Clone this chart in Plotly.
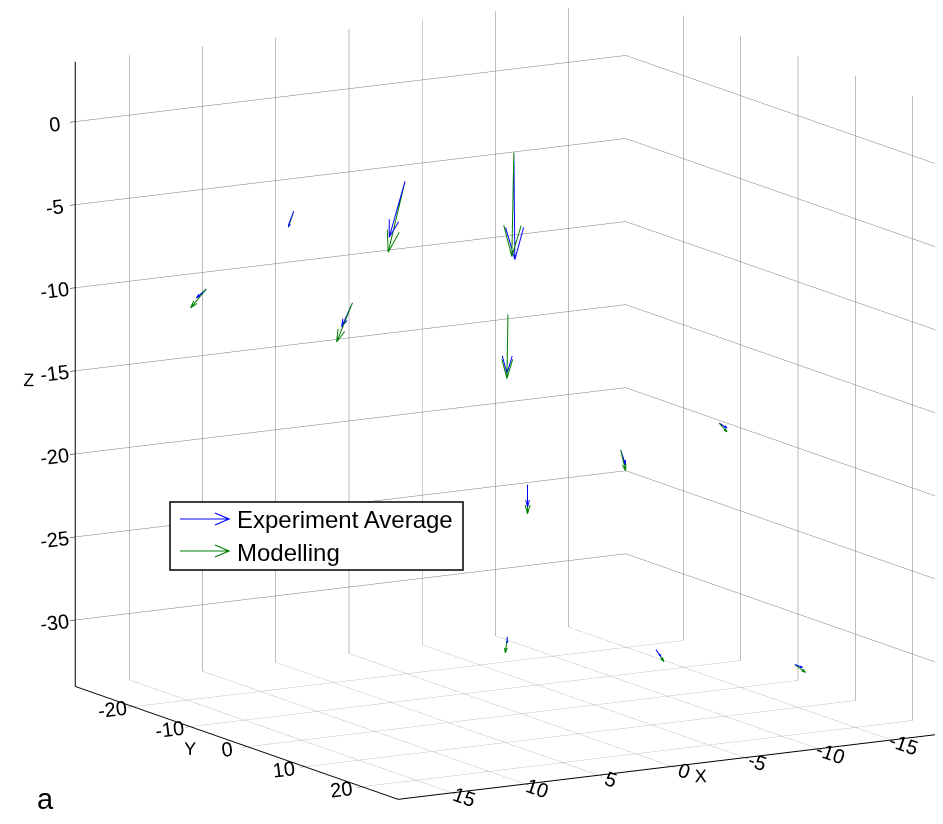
import numpy as np
import plotly.graph_objects as go

# ---------------- data ----------------
series_names = ["Experiment Average", "Modelling"]
series_colors = ["#0000ff", "#008000"]

# sensor (arrow tail) positions
pos_x = [18.2, 10.6, 0.9, 12.2, 6.8, 0.6, -17.3, -9.6, 0.2, -0.8, -6.5, -11.4]
pos_y = [6.8, 6.8, 1.0, -23.8, -12.1, -0.8, -9.7, -7.2, 1.6, -4.5, 6.9, 18.6]
pos_z = [-1.0, 0.0, 0.0, -10.0, -10.0, -10.0, -19.5, -20.0, -20.0, -30.0, -30.0, -30.0]

# Experiment Average vectors
exp_u = [0.62, 1.41, -0.09, 0.39, 0.42, 0.04, -0.77, -0.48, 0.00, 0.00, -0.19, -0.30]
exp_v = [0.37, 0.84, -0.05, -0.75, -0.82, -0.07, -0.58, -0.36, 0.00, 0.00, 0.39, 0.62]
exp_w = [-0.97, -3.12, -6.46, -0.59, -1.50, -3.56, -0.45, -1.00, -1.33, -0.36, -0.39, -0.14]

# Modelling vectors
mod_u = [0.97, 1.50, 0.18, 0.62, 0.62, 0.04, -0.77, -0.48, 0.00, 0.075, -0.30, -0.41]
mod_v = [0.58, 0.89, 0.11, -1.19, -1.19, -0.07, -0.58, -0.36, 0.00, -0.15, 0.62, 0.85]
mod_w = [-1.75, -4.01, -6.23, -1.22, -2.43, -3.86, -0.69, -1.36, -1.75, -0.97, -0.68, -0.42]

# axes
x_range = [-18.9, 18.7]
y_range = [-30.1, 26.3]
z_range = [-34.0, 3.6]
x_ticks = [-15, -10, -5, 0, 5, 10, 15]
y_ticks = [-20, -10, 0, 10, 20]
z_ticks = [-30, -25, -20, -15, -10, -5, 0]

# ---------------- view ----------------
view_dir = np.array([0.495, 0.844, 0.205])
view_dir = view_dir / np.linalg.norm(view_dir)
eye_dist = 1.5
box_scale = 1.549
cam_center = np.array([0.0735, -0.0301, -0.0535])
cam_eye = cam_center + view_dir * eye_dist

spans = np.array([x_range[1] - x_range[0], y_range[1] - y_range[0], z_range[1] - z_range[0]])

HEAD_LEN = 0.3
HEAD_W = 0.28


def quiver_lines(xs, ys, zs, us, vs, ws):
    lx, ly, lz = [], [], []
    for x, y, z, u, v, w in zip(xs, ys, zs, us, vs, ws):
        p = np.array([x, y, z], float)
        vec = np.array([u, v, w], float)
        tip = p + vec
        vn = vec / spans
        side = np.cross(view_dir, vn) * HEAD_LEN * HEAD_W
        back = -HEAD_LEN * vn
        h1 = tip + (back + side) * spans
        h2 = tip + (back - side) * spans
        for pt in (p, tip, None, h1, tip, h2, None):
            if pt is None:
                lx.append(None); ly.append(None); lz.append(None)
            else:
                lx.append(pt[0]); ly.append(pt[1]); lz.append(pt[2])
    return lx, ly, lz


series = list(zip(series_names, series_colors,
                  [(exp_u, exp_v, exp_w), (mod_u, mod_v, mod_w)]))
fig = go.Figure()
# Modelling drawn first so the experiment arrows sit on top, as in the reference
for name, col, (us, vs, ws) in reversed(series):
    lx, ly, lz = quiver_lines(pos_x, pos_y, pos_z, us, vs, ws)
    fig.add_trace(go.Scatter3d(x=lx, y=ly, z=lz, mode="lines", name=name,
                               line=dict(color=col, width=2), showlegend=False,
                               connectgaps=False, hoverinfo="skip"))

axis_common = dict(showbackground=False, showgrid=True, gridcolor="#7a7a7a", gridwidth=1,
                   showline=True, linecolor="black", linewidth=2, zeroline=False,
                   ticks="outside", tickcolor="black", ticklen=6, showspikes=False,
                   tickfont=dict(family="Liberation Sans, Arial", size=15.5, color="black"),
                   autorange=False)


def labels(vals):
    return [str(v) for v in vals]


title_font = dict(family="Liberation Sans, Arial", size=18, color="black")
fig.update_layout(
    width=943, height=824,
    margin=dict(l=0, r=0, t=0, b=0),
    paper_bgcolor="white",
    font=dict(family="Liberation Sans, Arial", color="black"),
    scene=dict(
        domain=dict(x=[0, 1], y=[0, 1]),
        aspectmode="manual",
        aspectratio=dict(x=box_scale, y=box_scale, z=box_scale),
        xaxis=dict(range=x_range, tickvals=x_ticks, ticktext=labels(x_ticks),
                   title=dict(text="X", font=title_font), **axis_common),
        yaxis=dict(range=y_range, tickvals=y_ticks, ticktext=labels(y_ticks),
                   title=dict(text="Y", font=title_font), **axis_common),
        zaxis=dict(range=z_range, tickvals=z_ticks, ticktext=labels(z_ticks),
                   title=dict(text="Z", font=title_font), **axis_common),
        camera=dict(projection=dict(type="orthographic"),
                    up=dict(x=0, y=0, z=1),
                    center=dict(x=float(cam_center[0]), y=float(cam_center[1]),
                                z=float(cam_center[2])),
                    eye=dict(x=float(cam_eye[0]), y=float(cam_eye[1]), z=float(cam_eye[2]))),
    ),
)

# ---------------- legend (drawn like the MATLAB quiver legend) ----------------
W, H = 943.0, 824.0
PAGE_OFF = 8.0   # the page's default body margin


def px(x):
    return (x - PAGE_OFF) / W


def py(y):
    return 1 - (y - PAGE_OFF) / H


legend_box = (170, 502, 463, 570)
legend_rows = [519, 551]
shapes = [dict(type="rect", xref="paper", yref="paper",
               x0=px(legend_box[0]), x1=px(legend_box[2]),
               y0=py(legend_box[3]), y1=py(legend_box[1]),
               line=dict(color="black", width=1.5), fillcolor="white", layer="above")]
annotations = []
for name, col, yy in zip(series_names, series_colors, legend_rows):
    path = (f"M {px(180)},{py(yy)} L {px(229)},{py(yy)} "
            f"M {px(215)},{py(yy - 6)} L {px(229)},{py(yy)} L {px(215)},{py(yy + 6)}")
    shapes.append(dict(type="path", xref="paper", yref="paper", path=path,
                       line=dict(color=col, width=1.2), layer="above"))
    annotations.append(dict(xref="paper", yref="paper", x=px(235), y=py(yy + 1),
                            xanchor="left", yanchor="middle", showarrow=False,
                            text=name, font=dict(size=24, color="black",
                                                 family="Liberation Sans, Arial")))
annotations.append(dict(xref="paper", yref="paper", x=px(35), y=py(799),
                        xanchor="left", yanchor="middle", showarrow=False,
                        text="a", font=dict(size=29, color="black",
                                            family="Liberation Sans, Arial")))
fig.update_layout(shapes=shapes, annotations=annotations)

fig.write_html("out.html", config={"displayModeBar": False})
